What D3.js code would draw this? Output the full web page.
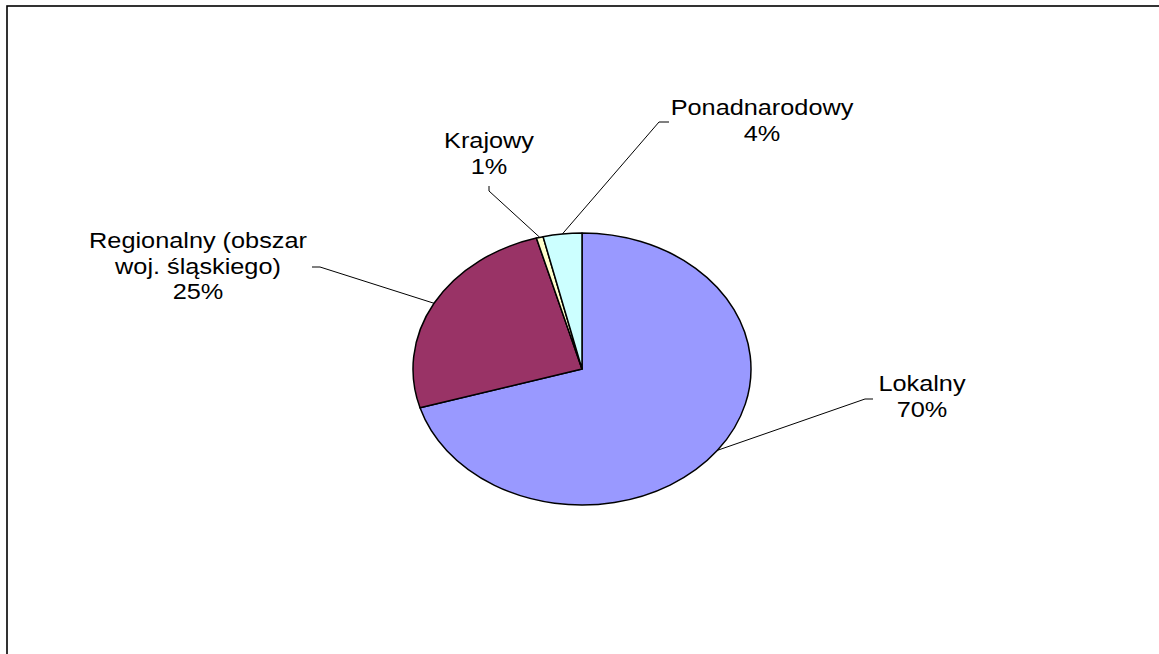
<!DOCTYPE html>
<html>
<head>
<meta charset="utf-8">
<script src="https://cdnjs.cloudflare.com/ajax/libs/d3/7.8.5/d3.min.js"></script>
<style>
  html, body { margin: 0; padding: 0; background: #fff; }
  svg { display: block; }
</style>
</head>
<body>
<svg id="chart" width="1159" height="654"></svg>
<script>
// ---- Data ----
const categories = ["Lokalny", "Regionalny (obszar woj. śląskiego)", "Krajowy", "Ponadnarodowy"];
const labelLines = [["Lokalny"], ["Regionalny (obszar", "woj. śląskiego)"], ["Krajowy"], ["Ponadnarodowy"]];
const values = [70.4, 25.25, 0.65, 3.7];
const percentLabels = ["70%", "25%", "1%", "4%"];
const colors = ["#9999FF", "#993366", "#FFFFCC", "#CCFFFF"];

// ---- Layout ----
const W = 1159, H = 654;
const cx = 582, cy = 369, rx = 169, ry = 136;
const fontSize = 22, xStretch = 1.15, lineH = 25.5;
// label text centre x and first baseline y; leader elbow and end points
const labelLayout = [
  { x: 922, y: 391, elbow: [865, 399], end: [873, 399] },
  { x: 198, y: 248, elbow: [320, 267], end: [312, 267] },
  { x: 489, y: 148, elbow: [489, 191], end: [489, 186] },
  { x: 762, y: 115, elbow: [659, 122], end: [669, 122] }
];

const svg = d3.select("#chart");

// frame
svg.append("rect")
  .attr("x", 7).attr("y", 6)
  .attr("width", W + 20).attr("height", H + 20)
  .attr("fill", "none").attr("stroke", "#000").attr("stroke-width", 1.6);

const pie = d3.pie().sort(null).value(d => d).startAngle(0).endAngle(2 * Math.PI);
const arcs = pie(values);
const arc = d3.arc().innerRadius(0).outerRadius(ry);

const g = svg.append("g")
  .attr("transform", `translate(${cx},${cy}) scale(${rx / ry},1)`);

g.selectAll("path.slice")
  .data(arcs)
  .enter().append("path")
  .attr("class", "slice")
  .attr("d", arc)
  .attr("fill", (d, i) => colors[i])
  .attr("stroke", "#000")
  .attr("stroke-width", 1.5)
  .attr("stroke-linejoin", "round")
  .attr("vector-effect", "non-scaling-stroke");

// leader lines
arcs.forEach((a, i) => {
  const mid = (a.startAngle + a.endAngle) / 2;
  const px = cx + rx * Math.sin(mid);
  const py = cy - ry * Math.cos(mid);
  const L = labelLayout[i];
  svg.append("polyline")
    .attr("points", [[px, py], L.elbow, L.end].map(p => p.join(",")).join(" "))
    .attr("fill", "none")
    .attr("stroke", "#000")
    .attr("stroke-width", 1);
});

// labels
arcs.forEach((a, i) => {
  const L = labelLayout[i];
  const lines = labelLines[i].concat([percentLabels[i]]);
  lines.forEach((t, k) => {
    svg.append("text")
      .attr("transform", `translate(${L.x},${L.y + k * lineH}) scale(${xStretch},1)`)
      .attr("text-anchor", "middle")
      .attr("font-family", "'Liberation Sans', Arial, sans-serif")
      .attr("font-size", fontSize)
      .attr("fill", "#000")
      .text(t);
  });
});
</script>
</body>
</html>
